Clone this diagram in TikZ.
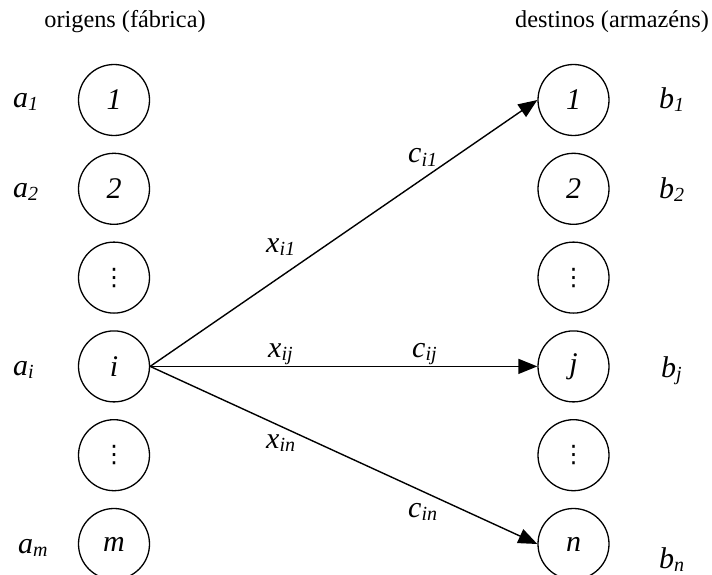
\documentclass[tikz,border=0pt]{standalone}
\usepackage{fontspec}
\setmainfont{Liberation Serif}
\newfontfamily\dvfont{DejaVu Sans}
\usetikzlibrary{arrows.meta}
\newcommand\lblsub[1]{\raisebox{-3pt}{\fontsize{20}{20}\selectfont\itshape #1}}
\newcommand\mydots{{\dvfont\upshape\fontsize{24}{24}\selectfont ⋮}}
\begin{document}
\begin{tikzpicture}[x=1pt,y=-1pt,
  nd/.style={draw,circle,line width=1.3pt,minimum size=71pt,inner sep=0pt,font=\fontsize{30}{31}\selectfont\itshape},
  lbl/.style={anchor=base west,inner sep=0pt,font=\fontsize{30}{31}\selectfont\itshape},
  ttl/.style={anchor=base,inner sep=0pt,font=\fontsize{24.3}{26}\selectfont},
  arr/.style={-{Triangle[length=19pt,width=15pt]},line width=1.4pt}]
\useasboundingbox (0,0) rectangle (712,575);
% titles
\node[ttl] (t1) at (125,28) {origens (fábrica)};
\node[ttl] (t2) at (612,28) {destinos (armazéns)};
% left column
\node[nd] (o1) at (114,100) {1};
\node[nd] (o2) at (114,188.8) {2};
\node[nd] (o3) at (114,277.6) {\mydots};
\node[nd] (oi) at (114,366.4) {i};
\node[nd] (o5) at (114,455.2) {\mydots};
\node[nd] (om) at (114,544) {m};
% right column
\node[nd] (d1) at (573.5,100) {1};
\node[nd] (d2) at (573.5,188.8) {2};
\node[nd] (d3) at (573.5,277.6) {\mydots};
\node[nd] (dj) at (573.5,366.4) {j};
\node[nd] (d5) at (573.5,455.2) {\mydots};
\node[nd] (dn) at (573.5,544) {n};
% supplies
\node[lbl] (a1) at (13,108) {a\lblsub{1}};
\node[lbl] (a2) at (13,197) {a\lblsub{2}};
\node[lbl] (ai) at (13,375) {a\lblsub{i}};
\node[lbl] (am) at (18,553) {a\lblsub{m}};
% demands
\node[lbl] (b1) at (659,109) {b\lblsub{1}};
\node[lbl] (b2) at (659,198) {b\lblsub{2}};
\node[lbl] (bj) at (661,377) {b\lblsub{j}};
\node[lbl] (bn) at (659,568) {b\lblsub{n}};
% arrows
\draw[arr] (oi.east) -- (d1.west);
\draw[arr] (oi.east) -- (dj.west);
\draw[arr] (oi.east) -- (dn.west);
% edge labels
\node[lbl] (ci1) at (408,163) {c\lblsub{i1}};
\node[lbl] (xi1) at (266,252) {x\lblsub{i1}};
\node[lbl] (xij) at (268,357) {x\lblsub{ij}};
\node[lbl] (cij) at (412,357) {c\lblsub{ij}};
\node[lbl] (xin) at (266,448) {x\lblsub{in}};
\node[lbl] (cin) at (408,517) {c\lblsub{in}};
\end{tikzpicture}
\end{document}
